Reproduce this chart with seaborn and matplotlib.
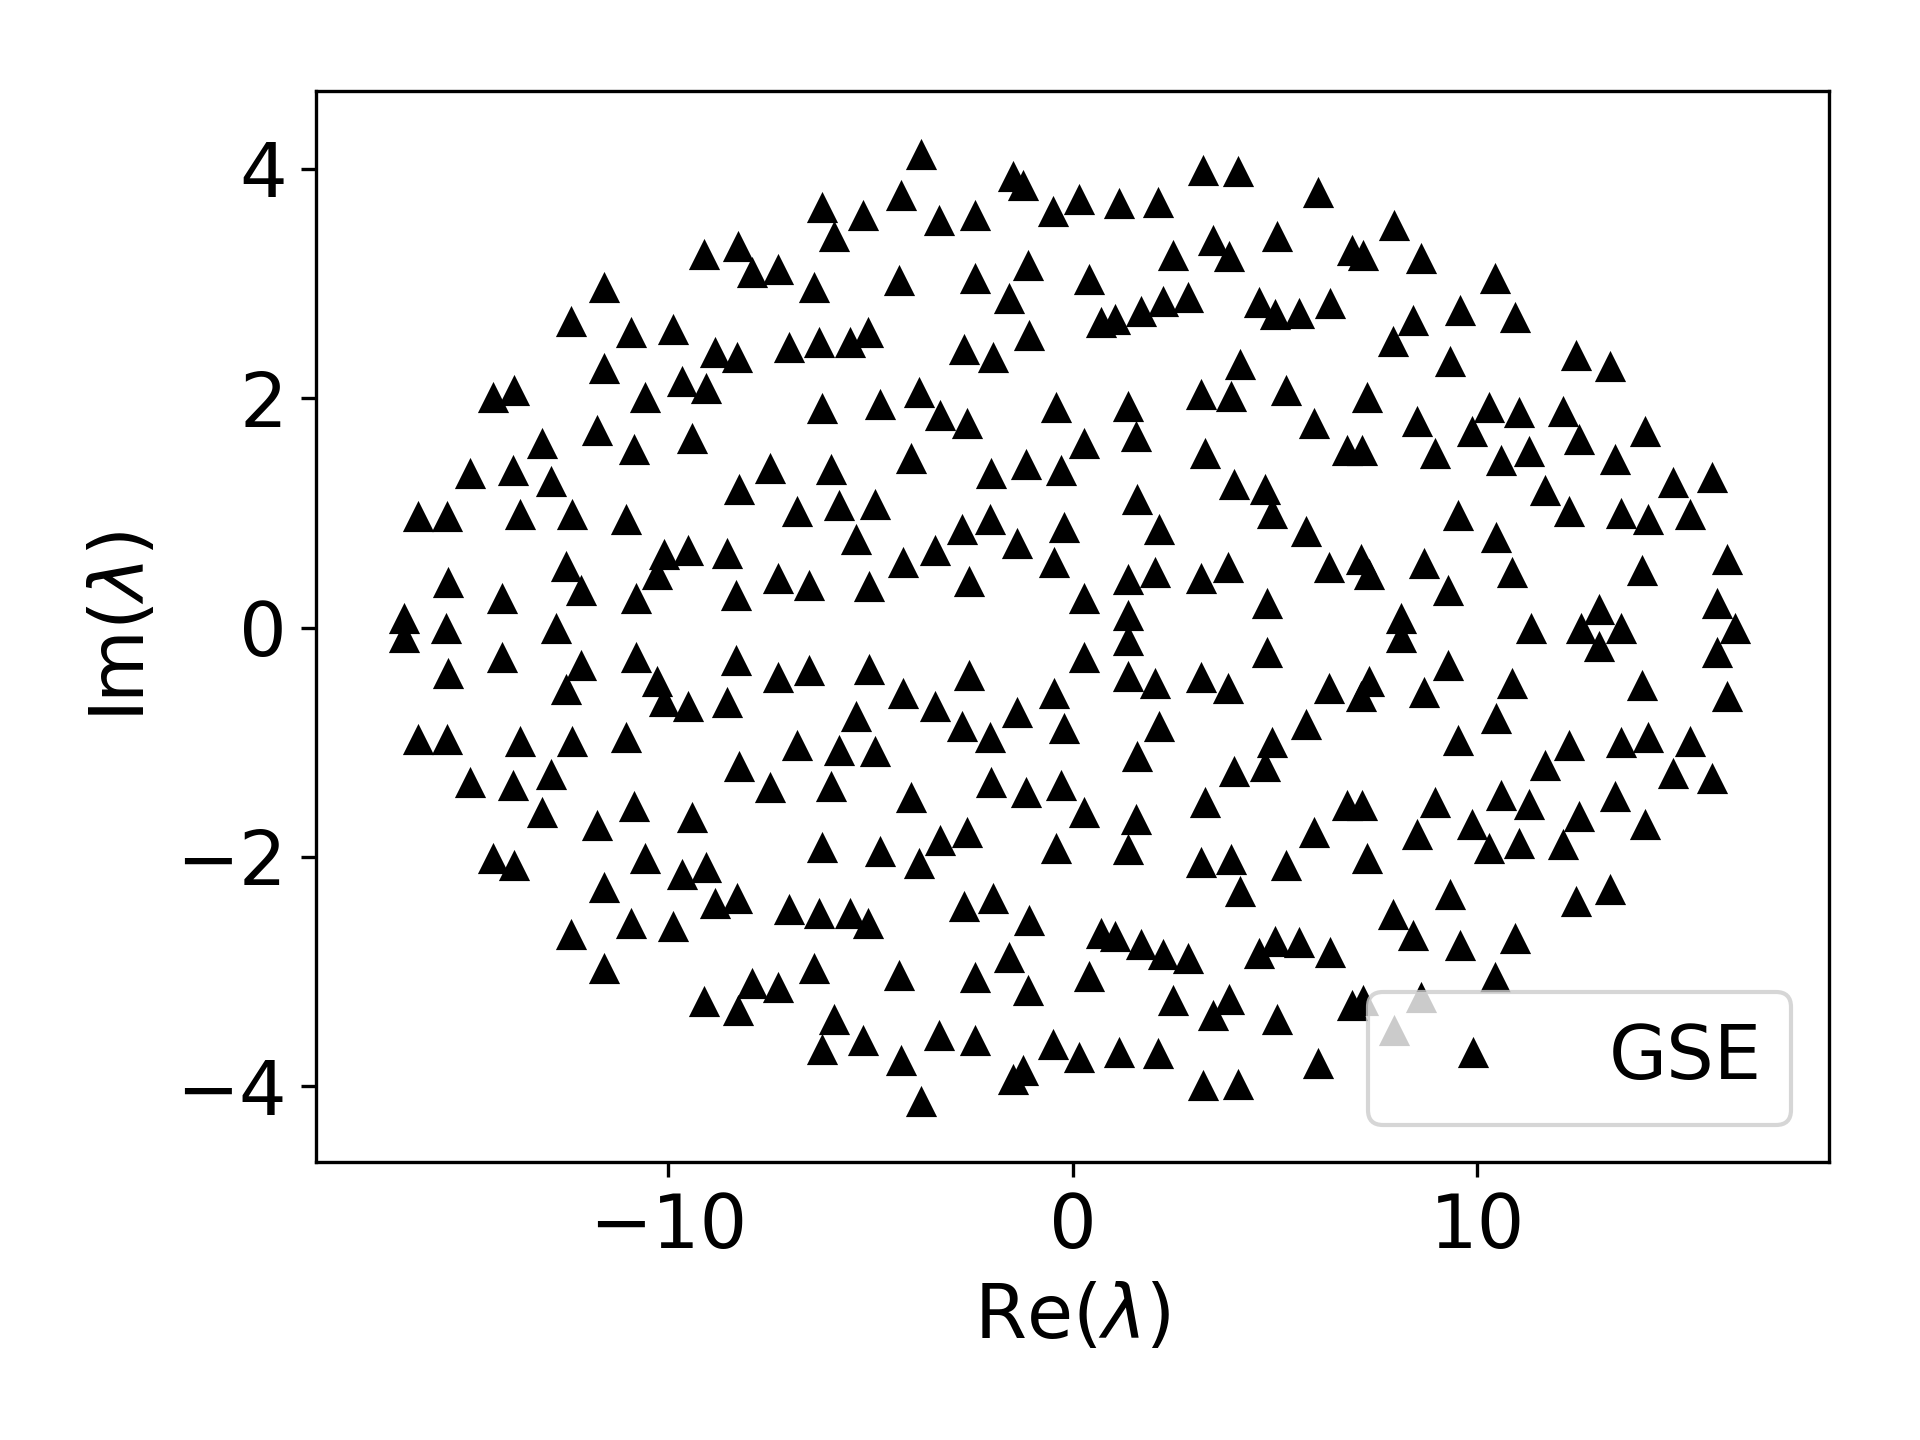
import numpy as np
import pandas as pd
import seaborn as sns
import matplotlib
import matplotlib.pyplot as plt

matplotlib.use('Agg')

# Eigenvalues. They come in complex-conjugate pairs,
# so only the upper half plane is listed; the lower half is the mirror image.
re_upper = [
    -9.11, -8.27, -7.92, -11.58, -12.40, -10.91, -9.88, -8.84, -8.30, -11.58,
    -9.65, -9.05, -10.57, -14.32, -13.80, -13.11, -11.75, -10.84, -9.41, -14.89,
    -13.83, -12.89, -16.17, -15.46, -13.65, -12.37, -11.04, -8.25, -10.10, -9.51,
    -8.54, -10.26, -12.52, -12.15, -15.43, -14.10, -10.79, -8.32, -16.52,
    -3.75, -1.46, -1.23, -6.20, -5.18, -4.24, -3.30, -2.41, -0.49, 0.16,
    1.14, 2.11, -5.89, -7.27, -6.40, -4.30, -2.40, -1.11, -1.57, 0.40,
    0.70, 1.04, 1.69, -7.00, -6.26, -5.51, -5.06, -2.69, -1.97, -1.08,
    -6.20, -4.77, -3.80, -3.28, -2.62, -0.40, 1.36, 1.58, -7.48, -5.98,
    -4.00, -2.02, -1.16, -0.29, 0.28, 1.60, -6.81, -5.77, -4.88, -5.35,
    -2.74, -2.05, -1.36, -0.20, -7.28, -6.51, -5.03, -4.19, -3.40, -2.56,
    -0.46, 0.28, 1.37, 1.37,
    3.23, 4.09, 6.07, 7.95, 3.47, 3.88, 2.49, 5.06, 6.91, 7.19,
    8.62, 10.45, 2.24, 2.86, 4.62, 5.01, 5.60, 6.37, 8.42, 7.93,
    9.58, 10.94, 4.15, 9.33, 3.18, 3.91, 5.28, 7.29, 5.98, 8.52,
    10.30, 11.04, 9.88, 3.28, 6.79, 7.16, 8.96, 10.59, 11.28, 11.68,
    3.98, 4.77, 4.92, 5.78, 9.53, 10.47, 2.13, 2.03, 3.17, 3.84,
    6.35, 7.13, 7.33, 8.68, 9.27, 10.87, 4.82, 8.11,
    12.44, 13.28, 12.12, 12.52, 14.15, 13.41, 14.84, 15.80, 12.27, 13.57,
    14.22, 15.26, 14.07, 16.18, 13.01, 15.93,
]
im_upper = [
    3.26, 3.33, 3.10, 2.97, 2.67, 2.58, 2.60, 2.40, 2.36, 2.26,
    2.15, 2.09, 2.01, 2.01, 2.07, 1.61, 1.72, 1.56, 1.65, 1.35,
    1.37, 1.28, 0.97, 0.97, 0.99, 0.99, 0.95, 1.21, 0.64, 0.68,
    0.65, 0.47, 0.54, 0.33, 0.40, 0.26, 0.26, 0.28, 0.08,
    4.13, 3.94, 3.86, 3.67, 3.60, 3.77, 3.55, 3.60, 3.63, 3.74,
    3.70, 3.71, 3.41, 3.13, 2.97, 3.03, 3.05, 3.16, 2.87, 3.04,
    2.66, 2.69, 2.76, 2.45, 2.49, 2.49, 2.58, 2.43, 2.36, 2.55,
    1.91, 1.95, 2.05, 1.85, 1.78, 1.92, 1.93, 1.67, 1.39, 1.38,
    1.48, 1.35, 1.43, 1.37, 1.61, 1.12, 1.02, 1.07, 1.08, 0.77,
    0.86, 0.95, 0.74, 0.88, 0.43, 0.37, 0.36, 0.57, 0.68, 0.41,
    0.57, 0.26, 0.42, 0.11,
    3.99, 3.98, 3.80, 3.51, 3.38, 3.24, 3.25, 3.41, 3.29, 3.25,
    3.22, 3.05, 2.85, 2.88, 2.84, 2.73, 2.74, 2.83, 2.68, 2.50,
    2.77, 2.71, 2.30, 2.32, 2.04, 2.02, 2.07, 2.01, 1.78, 1.80,
    1.92, 1.88, 1.71, 1.52, 1.55, 1.55, 1.52, 1.46, 1.54, 1.20,
    1.25, 1.21, 1.00, 0.84, 0.98, 0.79, 0.86, 0.48, 0.43, 0.53,
    0.53, 0.60, 0.47, 0.56, 0.33, 0.48, 0.21, 0.08,
    2.38, 2.28, 1.89, 1.64, 1.71, 1.47, 1.27, 1.31, 1.02, 1.00,
    0.95, 0.99, 0.50, 0.60, 0.16, 0.21,
]
# purely real eigenvalues
re_axis = [-15.48, -12.77, 11.33, 12.56, 13.55, 16.37]

x_ticks = [-10, 0, 10]
y_ticks = [-4, -2, 0, 2, 4]

re_all = np.concatenate([re_upper, re_upper, re_axis])
im_all = np.concatenate([im_upper, -np.array(im_upper), np.zeros(len(re_axis))])
df = pd.DataFrame({'re': re_all, 'im': im_all})

plt.rcParams['font.size'] = 18

fig, ax = plt.subplots(figsize=(6.4, 4.8), dpi=300)
fig.subplots_adjust(left=0.1646, right=0.9526, top=0.937, bottom=0.193)

sns.scatterplot(data=df, x='re', y='im', marker='^', color='k', s=56,
                linewidth=0, label='GSE', ax=ax)

ax.set_xlim(-18.7, 18.7)
ax.set_ylim(-4.66, 4.68)
ax.set_xticks(x_ticks)
ax.set_yticks(y_ticks)
ax.set_xlabel(r'Re($\lambda$)')
ax.set_ylabel(r'Im($\lambda$)')
# centre the marker in the legend like a line handle
ax.legend(loc='lower right', scatteryoffsets=[0.5])

fig.savefig('out.png', dpi=300)
plt.close(fig)
